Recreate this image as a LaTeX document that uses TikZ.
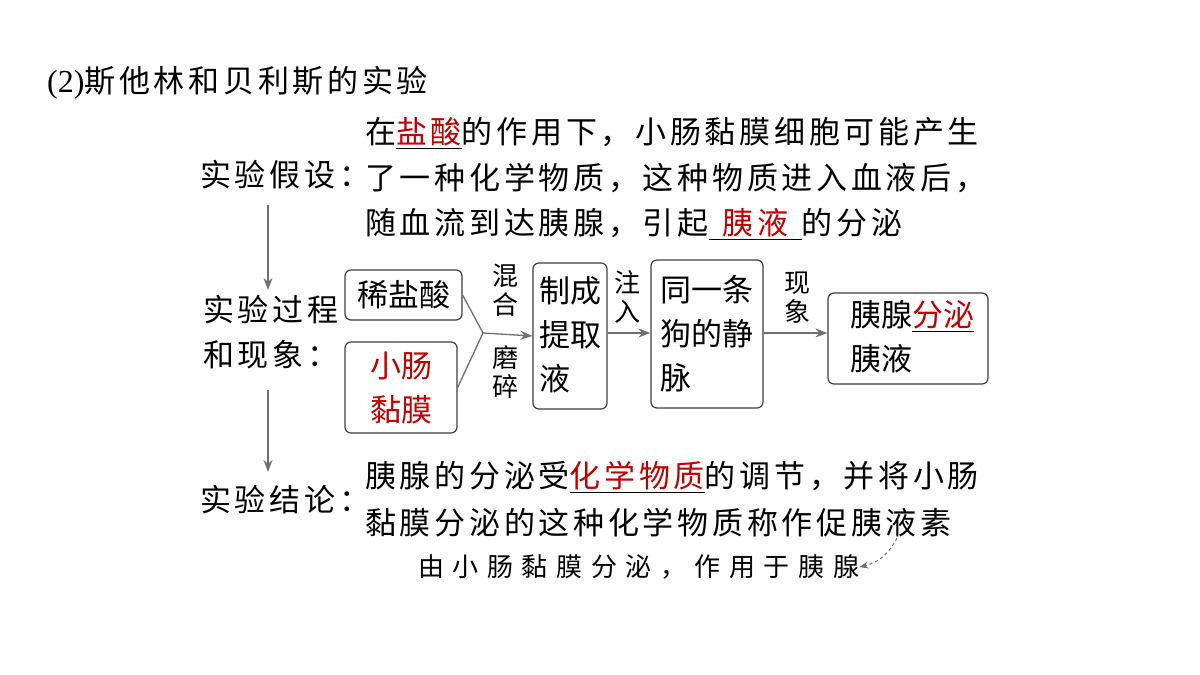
\documentclass[tikz,border=0pt]{standalone}
\usepackage{fontspec}
\setmainfont{Liberation Serif}
\newfontfamily\cjk[LetterSpace=12]{Noto Sans CJK SC}
\newfontfamily\cjkb{Noto Sans CJK SC}
\newfontfamily\cjkspaced[LetterSpace=33]{Noto Sans CJK SC}
\usetikzlibrary{arrows.meta}
\definecolor{ared}{HTML}{C00000}
\definecolor{agray}{HTML}{707070}
\tikzset{
  txt/.style={inner sep=0pt,anchor=west,font=\cjk\fontsize{31}{36}\selectfont},
  ctxt/.style={inner sep=0pt,font=\cjkb\fontsize{31}{44}\selectfont,align=center},
  box/.style={draw=black!75,line width=1.2pt,rounded corners=6pt},
  conn/.style={draw=agray,line width=1.3pt},
  arr/.style={conn,-{Stealth[length=12pt,width=9pt]}},
}
\begin{document}
\begin{tikzpicture}[x=1pt,y=-1pt]
\useasboundingbox (0,0) rectangle (1200,675);
\fill[white] (0,0) rectangle (1200,675);
\node[txt] (title) at (47,83) {{\rmfamily\fontsize{32}{36}\selectfont(2)}斯他林和贝利斯的实验};
% hypothesis
\node[txt] (h0) at (200,175) {实验假设：};
\node[txt] (h1) at (365,133) {在\underline{\textcolor{ared}{盐酸}}的作用下，小肠黏膜细胞可能产生};
\node[txt] (h2) at (365,178) {了一种化学物质，这种物质进入血液后，};
\node[txt] (h3) at (365,224) {随血流到达胰腺，引起\underline{\makebox[3em]{\textcolor{ared}{胰液}}}的分泌};
\coordinate (v1a) at (268,205);
\coordinate (v1b) at (268,290);
\draw[arr] (v1a) -- (v1b);
% process
\node[txt] (p1) at (203,310) {实验过程};
\node[txt] (p2) at (203,355) {和现象：};
\node[box,minimum width=117pt,minimum height=50pt] (b1) at (403.5,295) {};
\node[ctxt] (b1t) at (b1) {稀盐酸};
\node[box,minimum width=112pt,minimum height=91pt] (b2) at (401,387.5) {};
\node[ctxt,text=ared] (b2t) at (b2) {小肠\\黏膜};
\coordinate (j) at (483,333);
\draw[conn] (b1.east) -- (j);
\draw[conn] (b2.east) -- (j);
\node[box,minimum width=74pt,minimum height=146pt] (b3) at (570,336) {};
\node[ctxt] (b3t) at (570,335) {制成\\提取\\\makebox[2em][l]{液}};
\draw[arr] (j) -- (b3.west);
\node[ctxt,font=\cjkb\fontsize{26}{29}\selectfont] (l1) at (505,290) {混\\合};
\node[ctxt,font=\cjkb\fontsize{26}{29}\selectfont] (l2) at (505,372) {磨\\碎};
\node[box,minimum width=112pt,minimum height=148pt] (b4) at (707,334) {};
\node[ctxt] (b4t) at (707,334) {同一条\\狗的静\\\makebox[3em][l]{脉}};
\draw[arr] (b3.east |- j) -- (b4.west |- j);
\node[ctxt,font=\cjkb\fontsize{26}{29}\selectfont] (l3) at (627,297) {注\\入};
\node[box,minimum width=160pt,minimum height=91pt] (b5) at (908,338.5) {};
\node[ctxt] (b5t) at (912,337) {胰腺\underline{\textcolor{ared}{分泌}}\\\makebox[4em][l]{胰液}};
\draw[arr] (b4.east |- j) -- (b5.west |- j);
\node[ctxt,font=\cjkb\fontsize{26}{29}\selectfont] (l4) at (797,298) {现\\象};
\coordinate (v2a) at (268,390);
\coordinate (v2b) at (268,472);
\draw[arr] (v2a) -- (v2b);
% conclusion
\node[txt] (c0) at (200,500) {实验结论：};
\node[txt] (c1) at (365,477) {胰腺的分泌受\underline{\textcolor{ared}{化学物质}}的调节，并将小肠};
\node[txt] (c2) at (365,523) {黏膜分泌的这种化学物质称作促胰液素};
\node[inner sep=0pt,anchor=west,font=\cjkspaced\fontsize{26}{29}\selectfont] (c3) at (418,567) {由小肠黏膜分泌，作用于胰腺};
\coordinate (d1) at (897,538);
\draw[conn,line width=1pt,dashed,-{Stealth[length=9pt,width=7pt]}] (d1) to[bend left=25] (c3.east);
\end{tikzpicture}
\end{document}
